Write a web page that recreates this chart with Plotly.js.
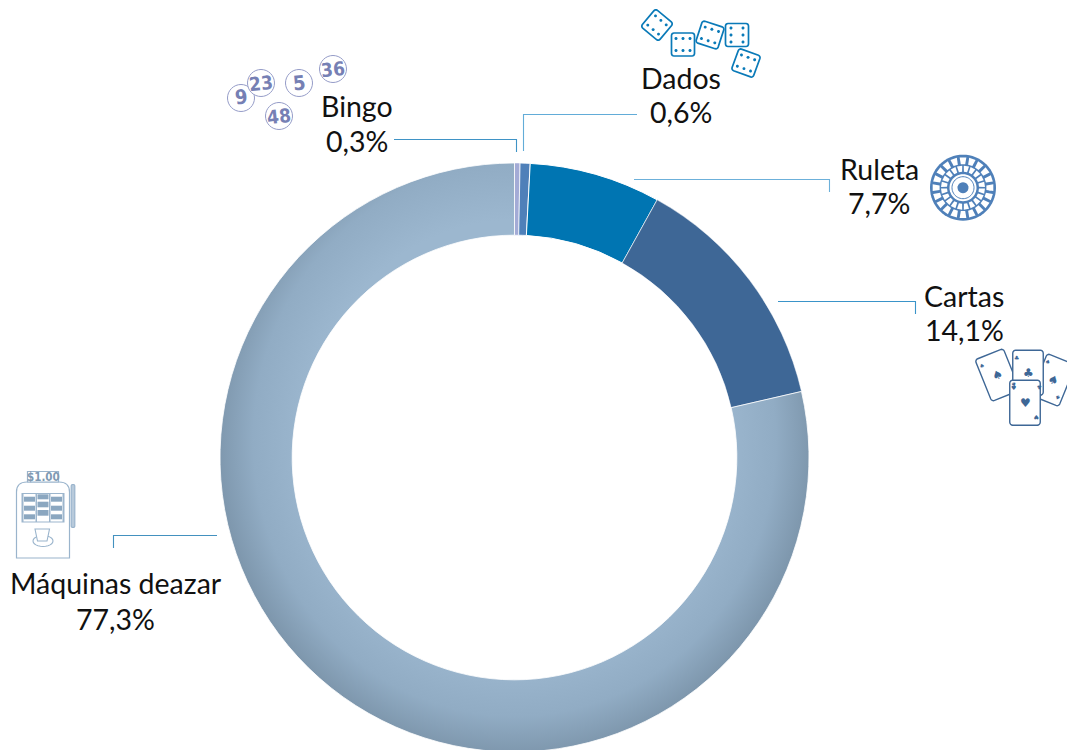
<!DOCTYPE html>
<html><head><meta charset="utf-8">
<script src="https://cdn.plot.ly/plotly-3.0.1.min.js"></script>
<style>html,body{margin:0;padding:0;background:#fff;overflow:hidden}#c{width:1067px;height:752px}</style>
</head><body><div id="c"></div>
<script>
const categories = ["Bingo","Dados","Ruleta","Cartas","Máquinas deazar"];
const sliceValues = [0.3,0.55,7.2,13.35,78.6];
const printedLabels = ["0,3%","0,6%","7,7%","14,1%","77,3%"];
const sliceColors = ["#a3abd6","#4f80b9","#0075b2","#3e6796","#8fabc3"];
const W=1067,H=752;
const px=x=>x/W, py=y=>1-y/H;
const shapes=[], annotations=[];
function path(d,o){shapes.push(Object.assign({type:'path',xref:'paper',yref:'paper',path:d,line:{width:0}},o));}
const X=(x)=>(x/W).toFixed(5), Y=(y)=>(1-y/H).toFixed(5);
function P(pts,close){return pts.map((p,i)=>(i?'L':'M')+X(p[0])+','+Y(p[1])).join(' ')+(close?' Z':'');}
function circlePts(cx,cy,r,n=28){const a=[];for(let i=0;i<n;i++){const t=2*Math.PI*i/n;a.push([cx+r*Math.cos(t),cy+r*Math.sin(t)]);}return a;}
function rrPts(cx,cy,w,h,r,rot){const d=rot*Math.PI/180,c=Math.cos(d),s=Math.sin(d),o=[];
 const cs=[[w/2-r,h/2-r,0],[-w/2+r,h/2-r,90],[-w/2+r,-h/2+r,180],[w/2-r,-h/2+r,270]];
 cs.forEach(q=>{for(let i=0;i<=4;i++){const t=(q[2]+i*22.5)*Math.PI/180;const x=q[0]+r*Math.cos(t),y=q[1]+r*Math.sin(t);o.push([cx+x*c-y*s,cy+x*s+y*c]);}});return o;}
function rotPt(cx,cy,x,y,rot){const d=rot*Math.PI/180,c=Math.cos(d),s=Math.sin(d);return [cx+x*c-y*s,cy+x*s+y*c];}
function txt(t,x,y,size,color,o){annotations.push(Object.assign({text:t,xref:'paper',yref:'paper',x:px(x),y:py(y),xanchor:'center',yanchor:'middle',showarrow:false,font:{size:size,color:color,family:'Lato, sans-serif'},borderpad:0},o||{}));}
// leader lines
const leaders=[
 {c:'#3f93c6',p:[[394,139.5],[516.5,139.5],[516.5,152]]},
 {c:'#62acd8',p:[[637,114.5],[523.5,114.5],[523.5,151]]},
 {c:'#6cb0da',p:[[634,179.5],[829.5,179.5],[829.5,192]]},
 {c:'#3a94c9',p:[[778,301.5],[915.5,301.5],[915.5,314]]},
 {c:'#4391bf',p:[[217,535.5],[113.5,535.5],[113.5,548]]}];
leaders.forEach(l=>path(P(l.p),{line:{color:l.c,width:1.1}}));
// labels: centre x, first-line centre y, second-line centre y
const labelPos=[[357,106.5,141],[681,78,112],[879,169,203],[964,296,330],[115.5,583,619]];
categories.forEach((c,i)=>{txt(c,labelPos[i][0],labelPos[i][1],28.5,'#111111');txt(printedLabels[i],labelPos[i][0],labelPos[i][2],28.5,'#111111');});
// bingo balls
const balls=[["9",241,98],["23",261,83],["5",299,83],["36",333,69],["48",279,116]];
const ballFont=s=>({size:s,color:'#7680b4',family:'DejaVu Sans Condensed, DejaVu Sans, sans-serif',weight:700});
balls.forEach(b=>{path(P(circlePts(b[1],b[2],13.5,32),1),{fillcolor:'#ffffff',line:{color:'#959cc8',width:1}});});
balls.forEach(b=>txt(b[0],b[1],b[2]-.5,18,'#7680b4',{font:ballFont(b[0].length>1?19:20),textangle:-6}));
// dice
const dice=[[657,25,40,0],[683,44.5,0,0],[710,35,18,0],[737,35,0,1],[746,63,20,0]];
const dieColor='#0a7ab8';
dice.forEach(d=>{path(P(rrPts(d[0],d[1],23,23,2.5,d[2]),1),{fillcolor:'#ffffff',line:{color:dieColor,width:1.7}});
 const pips=[];for(const a of [-7,0,7])for(const b of [-6,6])pips.push(d[3]?[b,a]:[a,b]);
 pips.forEach(q=>{const p=rotPt(d[0],d[1],q[0],q[1],d[2]);path(P(circlePts(p[0],p[1],1.5,10),1),{fillcolor:dieColor});});});
// roulette
const rc=[963,187.7], blue='#4f80b9';
path(P(circlePts(rc[0],rc[1],33,64),1),{fillcolor:blue});
const nSeg=20;
for(let i=0;i<nSeg;i++){
 const seg=(t,dt,r0,r1)=>P([[rc[0]+r0*Math.cos(t-dt*.85),rc[1]+r0*Math.sin(t-dt*.85)],[rc[0]+r1*Math.cos(t-dt),rc[1]+r1*Math.sin(t-dt)],[rc[0]+r1*Math.cos(t+dt),rc[1]+r1*Math.sin(t+dt)],[rc[0]+r0*Math.cos(t+dt*.85),rc[1]+r0*Math.sin(t+dt*.85)]],1);
 const t=i*2*Math.PI/nSeg;
 path(seg(t,.11,23.5,30.5),{fillcolor:'#ffffff'});
 path(seg(t+Math.PI/nSeg,.12,16,22),{fillcolor:'#ffffff'});
}
path(P(circlePts(rc[0],rc[1],13.5,48),1),{fillcolor:'#ffffff'});
path(P(circlePts(rc[0],rc[1],11,48),1),{fillcolor:'#ffffff',line:{color:blue,width:1}});
path(P(circlePts(rc[0],rc[1],5.5,24),1),{fillcolor:blue});
path(P(circlePts(990,188.5,2,12),1),{fillcolor:'#ffffff'});
// cards
const cardC='#3e6796';
const cards=[[997.5,375,-22,'♠'],[1053,380,22,'♠'],[1028,372.7,0,'♣'],[1025,402.7,0,'♥']];
const suitFont=s=>({size:s,color:cardC,family:'DejaVu Sans, sans-serif'});
cards.forEach(k=>{path(P(rrPts(k[0],k[1],30.5,45,3,k[2]),1),{fillcolor:'#ffffff',line:{color:cardC,width:1.4}});});
cards.forEach(k=>{
 txt(k[3],k[0],k[1],12,cardC,{font:suitFont(12),textangle:k[2]});
 const a=rotPt(k[0],k[1],-11.5,-15,k[2]),b=rotPt(k[0],k[1],11.5,15,k[2]);
 txt(k[3],a[0],a[1],6,cardC,{font:suitFont(6),textangle:k[2]});
 txt(k[3],b[0],b[1],6,cardC,{font:suitFont(6),textangle:k[2]+180});});
// slot machine
const sc='#9ab4cc';
path(`M${X(16.5)},${Y(558)} L${X(16.5)},${Y(492)} Q${X(16.5)},${Y(482)} ${X(27)},${Y(482)} L${X(59)},${Y(482)} Q${X(69.5)},${Y(482)} ${X(69.5)},${Y(492)} L${X(69.5)},${Y(558)} Z`,{fillcolor:'#ffffff',line:{color:sc,width:1.2}});
path(P([[27.5,471.5],[58.5,471.5],[58.5,482],[27.5,482]],1),{fillcolor:'#ffffff',line:{color:sc,width:1.2}});
txt('$1.00',43,477,11,'#7f9ab3',{font:{size:11.5,color:'#7f9ab3',family:'DejaVu Sans Condensed, DejaVu Sans, sans-serif',weight:700}});
path(P([[21.5,493],[64.5,493],[64.5,522.5],[21.5,522.5]],1),{fillcolor:'#9db6cd'});
const rect=(a,b,c,d,f)=>path(P([[a,b],[c,b],[c,d],[a,d]],1),{fillcolor:f});
[[23.5,35.5],[37,49],[50.5,62.5]].forEach(c=>rect(c[0],494,c[1],521.5,'#ffffff'));
const cellC='#8ba7c0';
[[496.7,501.7],[505.7,510.7],[514.3,519.3]].forEach(r=>{rect(24,r[0],35,r[1],cellC);rect(51,r[0],62,r[1],cellC);});
[[494.3,499.3],[501.7,507.3],[510,515.7]].forEach(r=>rect(37.5,r[0],48.5,r[1],cellC));
path(P(rrPts(73,506,3.6,43,1.6,0),1),{fillcolor:'#b8cadb',line:{color:sc,width:1.2}});
path(P(circlePts(43,541,10,24).map(p=>[p[0],541+(p[1]-541)*.55]),1),{fillcolor:'#ffffff',line:{color:sc,width:1.1}});
path(P([[35,529],[49.5,529],[47,541],[37.5,541]],1),{fillcolor:'#ffffff',line:{color:sc,width:1.1}});
const trace={type:'pie',labels:categories,values:sliceValues,sort:false,direction:'clockwise',rotation:0,hole:0.755,
 domain:{x:[220/W,809/W],y:[0,589/H]},textinfo:'none',hoverinfo:'label',showlegend:false,
 marker:{colors:sliceColors,line:{color:'#ffffff',width:[0.5,0.8,1,0.5,0.8]}}};
const layout={width:W,height:H,margin:{l:0,r:0,t:0,b:0,pad:0},paper_bgcolor:'#ffffff',shapes,annotations,showlegend:false};
Plotly.newPlot('c',[trace],layout,{displayModeBar:false,staticPlot:true}).then(()=>{
 const svg=document.querySelector('#c svg.main-svg');
 const ns='http://www.w3.org/2000/svg';
 const defs=svg.querySelector('defs')||svg.insertBefore(document.createElementNS(ns,'defs'),svg.firstChild);
 const g=document.createElementNS(ns,'radialGradient');g.id='mq';g.setAttribute('gradientUnits','userSpaceOnUse');
 g.setAttribute('cx','0');g.setAttribute('cy','0');g.setAttribute('r','1');
 g.setAttribute('gradientTransform','translate(514.5 440) scale(297 314)');
 [[0.7,'#9cb7cf'],[0.88,'#91acc4'],[1,'#7e97ad']].forEach(s=>{const e=document.createElementNS(ns,'stop');e.setAttribute('offset',s[0]);e.setAttribute('stop-color',s[1]);g.appendChild(e);});
 defs.appendChild(g);
 const sl=document.querySelectorAll('#c .slice path.surface');
 if(sl[4])sl[4].style.fill='url(#mq)';
});
</script></body></html>
